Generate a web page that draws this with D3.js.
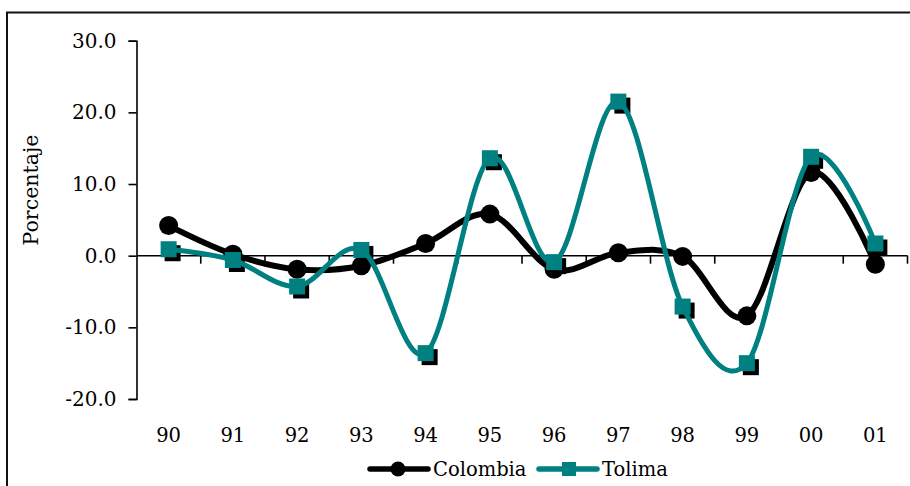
<!DOCTYPE html>
<html>
<head>
<meta charset="utf-8">
<script src="https://cdn.jsdelivr.net/npm/d3@7"></script>
<style>
  html, body { margin: 0; padding: 0; background: #fff; }
  svg { display: block; }
  text { font-family: "DejaVu Serif", serif; fill: #000; }
</style>
</head>
<body>
<svg id="chart" width="910" height="486"></svg>
<script>
const categories = ["90","91","92","93","94","95","96","97","98","99","00","01"];
const colombia = [4.2, 0.2, -1.9, -1.4, 1.7, 5.8, -1.9, 0.4, -0.1, -8.4, 11.6, -1.2];
const tolima   = [0.9, -0.6, -4.3, 0.8, -13.6, 13.6, -0.9, 21.5, -7.1, -15.0, 13.8, 1.7];
const yTicks = [-20, -10, 0, 10, 20, 30];
const seriesNames = ["Colombia", "Tolima"];

const svg = d3.select("#chart");

// outer frame
svg.append("rect")
  .attr("x", 7).attr("y", 12.5).attr("width", 1200).attr("height", 1200)
  .attr("fill", "none").attr("stroke", "#111").attr("stroke-width", 2);

const x = d3.scaleBand().domain(categories).range([136.5, 907.5]).padding(0);
const y = d3.scaleLinear().domain([-20, 30]).range([399, 40.7]);

const fmt = v => v.toFixed(1);

// y axis
const yAxis = svg.append("g").attr("transform", "translate(136.5,0)")
  .call(d3.axisLeft(y).tickValues(yTicks).tickSize(8).tickPadding(12).tickFormat(fmt));
yAxis.select(".domain").attr("stroke", "#000").attr("stroke-width", 1.6);
yAxis.selectAll(".tick line").attr("stroke", "#000").attr("stroke-width", 1.6);
yAxis.selectAll(".tick text").style("font-family", "DejaVu Serif, serif").style("font-size", "20px").attr("fill", "#000");

// x axis line at zero, ticks between categories pointing down
const xAxisG = svg.append("g").attr("transform", `translate(0,${y(0)})`);
xAxisG.append("line")
  .attr("x1", x.range()[0]).attr("x2", x.range()[1])
  .attr("stroke", "#000").attr("stroke-width", 1.6);
xAxisG.selectAll("line.tk")
  .data(categories.map((c, i) => i + 1))
  .join("line").attr("class", "tk")
  .attr("x1", i => x.range()[0] + i * x.bandwidth())
  .attr("x2", i => x.range()[0] + i * x.bandwidth())
  .attr("y1", 0).attr("y2", 8)
  .attr("stroke", "#000").attr("stroke-width", 1.6);

// x labels at bottom
svg.append("g").selectAll("text.xl")
  .data(categories).join("text").attr("class", "xl")
  .attr("x", d => x(d) + x.bandwidth() / 2)
  .attr("y", 442)
  .attr("text-anchor", "middle")
  .style("font-size", "19.5px")
  .text(d => d);

// y title
svg.append("text")
  .attr("transform", "translate(38,190) rotate(-90)")
  .attr("text-anchor", "middle")
  .style("font-size", "20.5px")
  .text("Porcentaje");

const cx = (d, i) => x(categories[i]) + x.bandwidth() / 2;
const line = d3.line().x(cx).y(d => y(d)).curve(d3.curveCardinal.tension(0));

// Colombia
svg.append("path").datum(colombia)
  .attr("d", line).attr("fill", "none")
  .attr("stroke", "#000").attr("stroke-width", 6)
  .attr("stroke-linejoin", "round").attr("stroke-linecap", "round");
svg.append("g").selectAll("circle")
  .data(colombia).join("circle")
  .attr("cx", cx).attr("cy", d => y(d)).attr("r", 9.5).attr("fill", "#000");

// Tolima shadows
const sq = 16, off = 4;
svg.append("g").selectAll("rect")
  .data(tolima).join("rect")
  .attr("x", (d, i) => cx(d, i) - sq / 2 + off)
  .attr("y", d => y(d) - sq / 2 + off)
  .attr("width", sq).attr("height", sq).attr("fill", "#000");
svg.append("path").datum(tolima)
  .attr("d", line).attr("fill", "none")
  .attr("stroke", "#008080").attr("stroke-width", 5)
  .attr("stroke-linejoin", "round").attr("stroke-linecap", "round");
svg.append("g").selectAll("rect")
  .data(tolima).join("rect")
  .attr("x", (d, i) => cx(d, i) - sq / 2)
  .attr("y", d => y(d) - sq / 2)
  .attr("width", sq).attr("height", sq).attr("fill", "#008080");

// legend
const legend = svg.append("g");
const legItems = [
  {name: seriesNames[0], color: "#000", x0: 370, shape: "circle"},
  {name: seriesNames[1], color: "#008080", x0: 539, shape: "square"}
];
const ly = 469;
legItems.forEach(it => {
  legend.append("line")
    .attr("x1", it.x0).attr("x2", it.x0 + 58).attr("y1", ly).attr("y2", ly)
    .attr("stroke", it.color).attr("stroke-width", 5.5).attr("stroke-linecap", "round");
  if (it.shape === "circle") {
    legend.append("circle").attr("cx", it.x0 + 28).attr("cy", ly).attr("r", 7.5).attr("fill", it.color);
  } else {
    legend.append("rect").attr("x", it.x0 + 30 - 7).attr("y", ly - 7).attr("width", 14).attr("height", 14).attr("fill", it.color);
  }
  legend.append("text").attr("x", it.x0 + 63).attr("y", ly + 6.5)
    .style("font-size", "19.5px").text(it.name);
});
</script>
</body>
</html>
